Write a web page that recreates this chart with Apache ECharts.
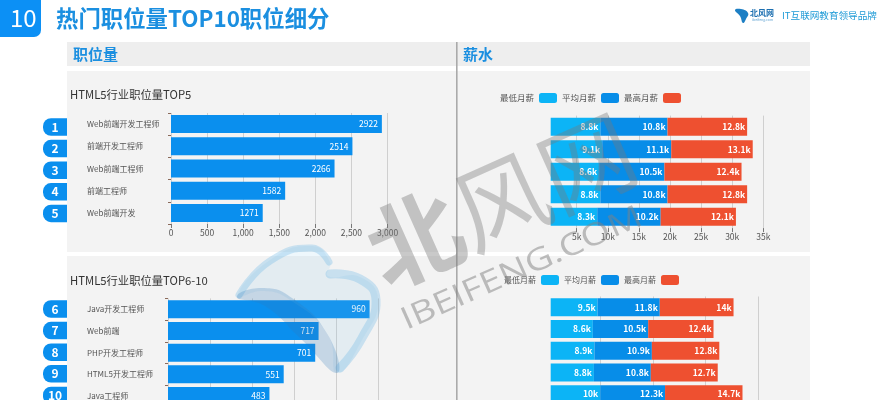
<!DOCTYPE html>
<html>
<head>
<meta charset="utf-8">
<style>
  html, body { margin: 0; padding: 0; background: #fff; }
  #main { width: 889px; height: 400px; }
</style>
<script src="https://cdn.jsdelivr.net/npm/echarts@6/dist/echarts.min.js"></script>
</head>
<body>
<div id="main"></div>
<script>
var topRanks = ['1', '2', '3', '4', '5'];
var bottomRanks = ['6', '7', '8', '9', '10'];
var topJobs = ['Web前端开发工程师', '前端开发工程师', 'Web前端工程师', '前端工程师', 'Web前端开发'];
var bottomJobs = ['Java开发工程师', 'Web前端', 'PHP开发工程师', 'HTML5开发工程师', 'Java工程师'];
var topCounts = [2922, 2514, 2266, 1582, 1271];
var bottomCounts = [960, 717, 701, 551, 483];
var topLow = [8.8, 9.1, 8.6, 8.8, 8.3];
var topAvg = [10.8, 11.1, 10.5, 10.8, 10.2];
var topHigh = [12.8, 13.1, 12.4, 12.8, 12.1];
var bottomLow = [9.5, 8.6, 8.9, 8.8, 10];
var bottomAvg = [11.8, 10.5, 10.9, 10.8, 12.3];
var bottomHigh = [14, 12.4, 12.8, 12.7, 14.7];
var topSalaryTicks = [5, 10, 15, 20, 25, 30, 35];
var bottomSalaryTicks = [10, 20, 30, 40];
var salaryNames = ['最低月薪', '平均月薪', '最高月薪'];

var FONT = '"Noto Sans CJK SC", "Noto Sans", sans-serif';
var BLUE = '#0a8fee', LOW = '#0cb4f6', AVG = '#078de8', HIGH = '#ee5030';
var TITLE_BLUE = '#1b8fe0';

var chart = echarts.init(document.getElementById('main'));

function gridAt(left, top, width, height) {
  // bottom grids run past the page edge, as in the slide
  return { left: left, top: top, width: width, height: height, outerBoundsMode: 'none' };
}

function countAxis(gridIndex, max, interval) {
  return {
    type: 'value', gridIndex: gridIndex, min: 0, max: max, interval: interval,
    axisLine: { show: false },
    axisTick: { show: true, length: 4, lineStyle: { color: '#777' } },
    axisLabel: {
      color: '#555', fontSize: 8.5, margin: 5, fontFamily: FONT,
      formatter: function (v) { return v.toLocaleString('en-US'); }
    },
    splitLine: { show: true, lineStyle: { color: '#cfcfcf' } }
  };
}

function salaryAxis(gridIndex, min, max, ticks) {
  return {
    type: 'value', gridIndex: gridIndex, min: min, max: max,
    axisLine: { show: false },
    axisTick: { show: true, length: 4, customValues: ticks, lineStyle: { color: '#777' } },
    axisLabel: {
      color: '#555', fontSize: 8.5, margin: 4, fontFamily: FONT, customValues: ticks,
      formatter: '{value}k'
    },
    splitLine: { show: true, lineStyle: { color: '#cfcfcf' } }
  };
}

function jobAxis(gridIndex, data, margin) {
  return {
    type: 'category', gridIndex: gridIndex, data: data, inverse: true,
    axisLine: { show: false },
    axisTick: { show: true, length: 3, lineStyle: { color: '#8a6a5a' } },
    axisLabel: { color: '#555', fontSize: 8, align: 'left', margin: margin, fontFamily: FONT }
  };
}

function salaryCatAxis(gridIndex, data) {
  return {
    type: 'category', gridIndex: gridIndex, data: data, inverse: true,
    axisLine: { show: false }, axisTick: { show: false }, axisLabel: { show: false }
  };
}

function rankAxis(gridIndex, data) {
  return {
    type: 'category', gridIndex: gridIndex, data: data, inverse: true,
    axisLine: { show: false }, axisTick: { show: false },
    axisLabel: {
      margin: 0, color: '#fff', fontSize: 12, fontWeight: 'bold', fontFamily: FONT, align: 'center',
      backgroundColor: BLUE, borderRadius: [8, 0, 0, 8], width: 24, height: 17.5, lineHeight: 17.5
    }
  };
}

function hiddenX(gridIndex) {
  return { type: 'value', gridIndex: gridIndex, show: false };
}

function countSeries(axisIndex, data, name) {
  return {
    type: 'bar', name: name, xAxisIndex: axisIndex, yAxisIndex: axisIndex, data: data, barWidth: 18,
    itemStyle: { color: BLUE },
    label: { show: true, position: 'insideRight', color: '#fff', fontSize: 8.5, distance: 4, fontFamily: FONT }
  };
}

function salarySeries(axisIndex, name, data, color, stack) {
  return {
    type: 'bar', name: name, stack: stack, xAxisIndex: axisIndex, yAxisIndex: axisIndex, data: data, barWidth: 18,
    itemStyle: { color: color },
    label: {
      show: true, position: 'insideRight', color: '#fff', fontSize: 8.5, fontWeight: 'bold',
      distance: 2, formatter: '{c}k', fontFamily: FONT
    }
  };
}

function legendAt(left, top, fontSize, width) {
  return {
    left: left, top: top, align: 'right', itemWidth: width, itemHeight: 10, itemGap: 5,
    icon: 'roundRect', selectedMode: false, padding: 0, data: salaryNames,
    textStyle: { color: '#555', fontSize: fontSize, padding: 0, fontFamily: FONT }
  };
}

function rect(x, y, w, h, fill) {
  return { type: 'rect', z: 0, shape: { x: x, y: y, width: w, height: h }, style: { fill: fill }, silent: true };
}

function label(x, y, text, font, fill) {
  return { type: 'text', z: 1, x: x, y: y, style: { text: text, font: font, fill: fill, textVerticalAlign: 'middle' }, silent: true };
}

function blob(points, fill, z) {
  return { type: 'polygon', z: z, shape: { points: points, smooth: 0.5 }, style: { fill: fill }, silent: true };
}

function swoosh(points, width) {
  return {
    type: 'polyline', z: 100, shape: { points: points, smooth: 0.5 },
    style: { fill: 'none', stroke: 'rgba(110,185,230,0.32)', lineWidth: width, lineCap: 'round' }, silent: true
  };
}

var option = {
  animation: false,
  backgroundColor: '#fff',
  textStyle: { fontFamily: FONT },
  grid: [
    gridAt(171, 113, 216.5, 111),
    gridAt(168, 298.4, 210, 108.5),
    gridAt(550.7, 115.6, 212.6, 112.5),
    gridAt(550.7, 296.5, 207.6, 108.5),
    gridAt(55, 116.2, 10, 108),
    gridAt(55, 298.2, 10, 108)
  ],
  xAxis: [
    countAxis(0, 3000, 500),
    countAxis(1, 1000, 200),
    salaryAxis(2, 0.82, 35, topSalaryTicks),
    salaryAxis(3, 0.6, 40, bottomSalaryTicks),
    hiddenX(4),
    hiddenX(5)
  ],
  yAxis: [
    jobAxis(0, topJobs, 84),
    jobAxis(1, bottomJobs, 81),
    salaryCatAxis(2, topJobs),
    salaryCatAxis(3, bottomJobs),
    rankAxis(4, topRanks),
    rankAxis(5, bottomRanks)
  ],
  legend: [legendAt(500, 93, 8.5, 18), legendAt(504, 275, 8, 18)],
  series: [
    countSeries(0, topCounts, '职位量TOP5'),
    countSeries(1, bottomCounts, '职位量TOP6-10'),
    salarySeries(2, salaryNames[0], topLow, LOW, 'top'),
    salarySeries(2, salaryNames[1], topAvg, AVG, 'top'),
    salarySeries(2, salaryNames[2], topHigh, HIGH, 'top'),
    salarySeries(3, salaryNames[0], bottomLow, LOW, 'bottom'),
    salarySeries(3, salaryNames[1], bottomAvg, AVG, 'bottom'),
    salarySeries(3, salaryNames[2], bottomHigh, HIGH, 'bottom')
  ],
  graphic: { elements: [
    // page furniture
    { type: 'rect', z: 0, shape: { x: -10, y: -10, width: 51, height: 47, r: 7 }, style: { fill: '#0c90f5' }, silent: true },
    label(10, 18, '10', '24px ' + FONT, '#fff'),
    label(56, 18, '热门职位量TOP10职位细分', 'bold 22.4px ' + FONT, TITLE_BLUE),
    rect(67, 42, 743, 24, '#eeeeee'),
    rect(67, 71, 743, 181, '#f3f3f3'),
    rect(67, 256, 743, 144, '#f3f3f3'),
    rect(456, 42, 1.6, 358, '#aaaaaa'),
    label(73, 54, '职位量', 'bold 15px ' + FONT, TITLE_BLUE),
    label(463, 54, '薪水', 'bold 15px ' + FONT, TITLE_BLUE),
    label(70, 95, 'HTML5行业职位量TOP5', '11.3px ' + FONT, '#333'),
    label(70, 281, 'HTML5行业职位量TOP6-10', '11.3px ' + FONT, '#333'),
    // brand mark, top right
    blob([[735, 10], [741, 9], [748, 13], [746, 19], [743, 23], [740, 16]], '#1d7fc4', 1),
    label(750, 13, '北风网', 'bold 8px ' + FONT, '#1c6fb0'),
    label(752, 20, 'ibeifeng.com', '3.5px ' + FONT, '#5a9fd0'),
    label(782, 15, 'IT互联网教育领导品牌', '9.6px ' + FONT, '#1d9ad6'),
    // watermark over everything
    blob([[237, 297], [270, 260], [312, 246], [330, 262], [328, 276], [360, 277], [378, 300], [362, 340], [337, 373], [328, 335], [290, 300], [262, 291]], 'rgba(120,190,235,0.13)', 100),
    swoosh([[239, 295], [270, 261], [312, 248], [329, 262]], 7),
    swoosh([[330, 274], [360, 279], [376, 300], [362, 338], [340, 368]], 9),
    blob([[237, 297], [262, 288], [292, 298], [328, 335], [337, 373], [300, 338], [265, 306]], 'rgba(50,120,185,0.24)', 100),
    { type: 'text', z: 100, x: 372, y: 258, rotation: 0.42, style: { text: '北', font: 'bold 94px "Noto Sans CJK SC"', fill: 'rgba(120,120,120,0.4)', textVerticalAlign: 'middle' }, silent: true },
    { type: 'text', z: 100, x: 458, y: 220, rotation: 0.42, style: { text: '风网', font: '94px "Noto Sans CJK SC"', fill: 'rgba(120,120,120,0.38)', textVerticalAlign: 'middle' }, silent: true },
    { type: 'text', z: 100, x: 403, y: 322, rotation: 0.42, scaleX: 1.22, style: { text: 'IBEIFENG.COM', font: '31px "Open Sans"', fill: 'rgba(130,130,130,0.5)', textVerticalAlign: 'middle' }, silent: true }
  ] }
};

chart.setOption(option);
</script>
</body>
</html>
